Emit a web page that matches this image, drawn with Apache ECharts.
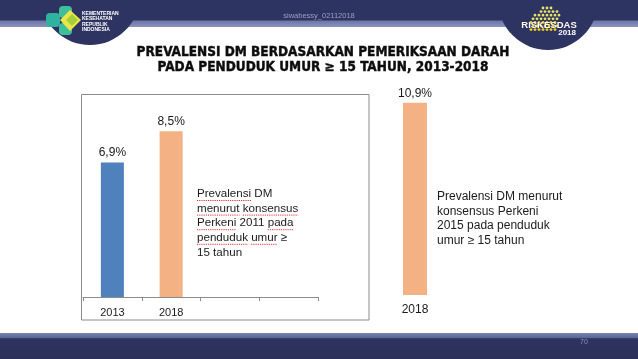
<!DOCTYPE html>
<html><head><meta charset="utf-8">
<script src="https://cdn.jsdelivr.net/npm/echarts@6/dist/echarts.min.js"></script>
<style>html,body{margin:0;padding:0;background:#fff}#c{width:638px;height:359px}</style>
</head><body><div id="c"></div>
<script>
const titleLines = ['PREVALENSI DM BERDASARKAN PEMERIKSAAN DARAH', 'PADA PENDUDUK UMUR \u2265 15 TAHUN, 2013-2018'];
const leftCategories = ['2013', '2018', '', ''];
const leftValues = [6.9, 8.5, null, null];
const rightCategories = ['2018'];
const rightValues = [10.9];
const leftNote = ['Prevalensi DM', 'menurut konsensus', 'Perkeni 2011 pada', 'penduduk umur \u2265', '15 tahun'];
const rightNote = ['Prevalensi DM menurut', 'konsensus Perkeni', '2015 pada penduduk', 'umur \u2265 15 tahun'];
const underlined = [['Prevalensi'], ['menurut', 'konsensus'], ['Perkeni', 'pada'], ['penduduk', 'umur'], []];
const watermark = 'siwabessy_02112018';
const pageNumber = '70';
const logoLeftText = 'KEMENTERIAN\nKESEHATAN\nREPUBLIK\nINDONESIA';

const NAVY = '#2e3461';
const BLUE = '#4f81bd';
const ORANGE = '#f4b183';
const fmt = v => String(v).replace('.', ',') + '%';
const noteFont = '"Liberation Sans", Arial, sans-serif';

const chart = echarts.init(document.getElementById('c'), null, {renderer: 'canvas'});

const g = [];
// header
g.push({type: 'rect', shape: {x: 0, y: 0, width: 638, height: 27}, style: {fill: new echarts.graphic.LinearGradient(0, 0, 0, 1, [{offset: 0, color: NAVY}, {offset: 0.74, color: NAVY}, {offset: 0.78, color: '#6d77a8'}, {offset: 1, color: '#8b93bd'}])}, z: 1});
g.push({type: 'circle', shape: {cx: 90, cy: -5, r: 50}, style: {fill: NAVY}, z: 2});
g.push({type: 'circle', shape: {cx: 548, cy: 0, r: 50}, style: {fill: NAVY}, z: 2});
g.push({type: 'text', x: 319, y: 16, style: {text: watermark, fontSize: 7.5, fontFamily: noteFont, fill: '#9a9fc0', align: 'center', verticalAlign: 'middle'}, z: 3});
// left logo
g.push({type: 'rect', shape: {x: 46, y: 13, width: 14, height: 14, r: 4}, style: {fill: '#2fb3a1'}, z: 3});
g.push({type: 'rect', shape: {x: 59, y: 6, width: 13, height: 12, r: 4}, style: {fill: '#3dbf9c'}, z: 3});
g.push({type: 'rect', shape: {x: 59, y: 23, width: 13, height: 12, r: 4}, style: {fill: '#3dbf9c'}, z: 3});
g.push({type: 'polygon', shape: {points: [[60, 20], [70, 10], [81, 20], [70, 31]]}, style: {fill: '#ece548'}, z: 4});
g.push({type: 'polygon', shape: {points: [[66, 20], [72, 14], [78, 20], [72, 26]]}, style: {fill: '#a3cf3a'}, z: 5});
g.push({type: 'text', x: 82, y: 11, style: {text: logoLeftText, fontSize: 5, lineHeight: 5.3, fontWeight: 'bold', fontFamily: noteFont, fill: '#ffffff', align: 'left', verticalAlign: 'top'}, z: 4});
// right logo dots
for (let r = 0; r < 7; r++) {
  for (let c = 0; c < 9; c++) {
    const x = 531 + c * 4 + (r % 2) * 2;
    const y = 8 + r * 3.6;
    if (c + r < 3 || c - r > 5 || (c > 6 && r > 2)) continue;
    g.push({type: 'circle', shape: {cx: x, cy: y, r: 1.4}, style: {fill: r > 3 ? '#f2d21b' : '#e7e36a'}, z: 3});
  }
}
g.push({type: 'text', x: 549, y: 25, style: {text: 'RISKESDAS', fontSize: 9.5, fontWeight: 'bold', fontFamily: noteFont, fill: '#ffffff', align: 'center', verticalAlign: 'middle', textShadowColor: 'rgba(0,0,0,0.3)', textShadowBlur: 1}, z: 5});
g.push({type: 'text', x: 576, y: 32.5, style: {text: '2018', fontSize: 8, fontWeight: 'bold', fontFamily: noteFont, fill: '#ffffff', align: 'right', verticalAlign: 'middle'}, z: 5});
// title
titleLines.forEach((t, i) => {
  g.push({type: 'text', x: 323, y: 52.5 + i * 14.5, style: {text: t, fontSize: 13.5, fontWeight: 'bold', fontFamily: '"DejaVu Sans Condensed", "DejaVu Sans", sans-serif', fill: '#0d0d0d', align: 'center', verticalAlign: 'middle', stroke: '#0d0d0d', lineWidth: 0.4}, z: 3});
});
// left box
g.push({type: 'rect', shape: {x: 81.5, y: 94.5, width: 287.5, height: 225.5}, style: {fill: 'none', stroke: '#8c8c8c', lineWidth: 1}, z: 0});
// notes
const LH = 14.6;
const NFS = 11.6;
g.push({type: 'text', x: 197, y: 194 - LH / 2, style: {text: leftNote.join('\n'), fontSize: NFS, lineHeight: LH, fontFamily: noteFont, fill: '#1a1a1a', align: 'left', verticalAlign: 'top'}, z: 3});
g.push({type: 'text', x: 437, y: 197 - 14.4 / 2, style: {text: rightNote.join('\n'), fontSize: 12, lineHeight: 14.4, fontFamily: noteFont, fill: '#1a1a1a', align: 'left', verticalAlign: 'top'}, z: 3});
// spell-check underlines
const ctx = document.createElement('canvas').getContext('2d');
ctx.font = NFS + 'px "Liberation Sans", Arial, sans-serif';
leftNote.forEach((line, i) => {
  underlined[i].forEach(w => {
    const idx = line.indexOf(w);
    const x0 = 197 + ctx.measureText(line.slice(0, idx)).width;
    const wd = ctx.measureText(w).width;
    const y = 194 + i * LH + 6.5;
    g.push({type: 'line', shape: {x1: x0, y1: y, x2: x0 + wd, y2: y}, style: {stroke: '#e8323c', lineWidth: 1, lineDash: [1.2, 1]}, z: 3});
  });
});
// footer
g.push({type: 'rect', shape: {x: 0, y: 333, width: 638, height: 26}, style: {fill: new echarts.graphic.LinearGradient(0, 0, 0, 1, [{offset: 0, color: '#7a84b4'}, {offset: 0.18, color: '#5d6797'}, {offset: 0.22, color: NAVY}, {offset: 1, color: '#2a3058'}])}, z: 1});
g.push({type: 'text', x: 584, y: 342, style: {text: pageNumber, fontSize: 7, fontFamily: noteFont, fill: '#8a92bb', align: 'center', verticalAlign: 'middle'}, z: 3});

const option = {
  backgroundColor: '#ffffff',
  animation: false,
  grid: [
    {left: 83, width: 235, top: 102, height: 195},
    {left: 385, width: 60, top: 101, height: 194}
  ],
  xAxis: [
    {type: 'category', gridIndex: 0, data: leftCategories,
     axisLine: {lineStyle: {color: '#8c8c8c'}},
     axisTick: {show: true, length: 4, interval: 0, lineStyle: {color: '#8c8c8c'}},
     axisLabel: {interval: 0, margin: 10, fontSize: 11, color: '#1a1a1a', fontFamily: noteFont}},
    {type: 'category', gridIndex: 1, data: rightCategories,
     axisLine: {show: false}, axisTick: {show: false},
     axisLabel: {margin: 9, fontSize: 12, color: '#1a1a1a', fontFamily: noteFont}}
  ],
  yAxis: [
    {type: 'value', gridIndex: 0, min: 0, max: 10, show: false, splitLine: {show: false}},
    {type: 'value', gridIndex: 1, min: 0, max: 11, show: false, splitLine: {show: false}}
  ],
  series: [
    {type: 'bar', xAxisIndex: 0, yAxisIndex: 0, barWidth: 23,
     data: leftValues.map((v, i) => ({value: v, itemStyle: {color: i === 0 ? BLUE : ORANGE}})),
     label: {show: true, position: 'top', distance: 4, fontSize: 12, color: '#1a1a1a', fontFamily: noteFont, formatter: p => fmt(p.value)}},
    {type: 'bar', xAxisIndex: 1, yAxisIndex: 1, barWidth: 24,
     data: rightValues, itemStyle: {color: ORANGE},
     label: {show: true, position: 'top', distance: 3, fontSize: 12, color: '#1a1a1a', fontFamily: noteFont, formatter: p => fmt(p.value)}}
  ],
  graphic: g
};
chart.setOption(option);
</script></body></html>
